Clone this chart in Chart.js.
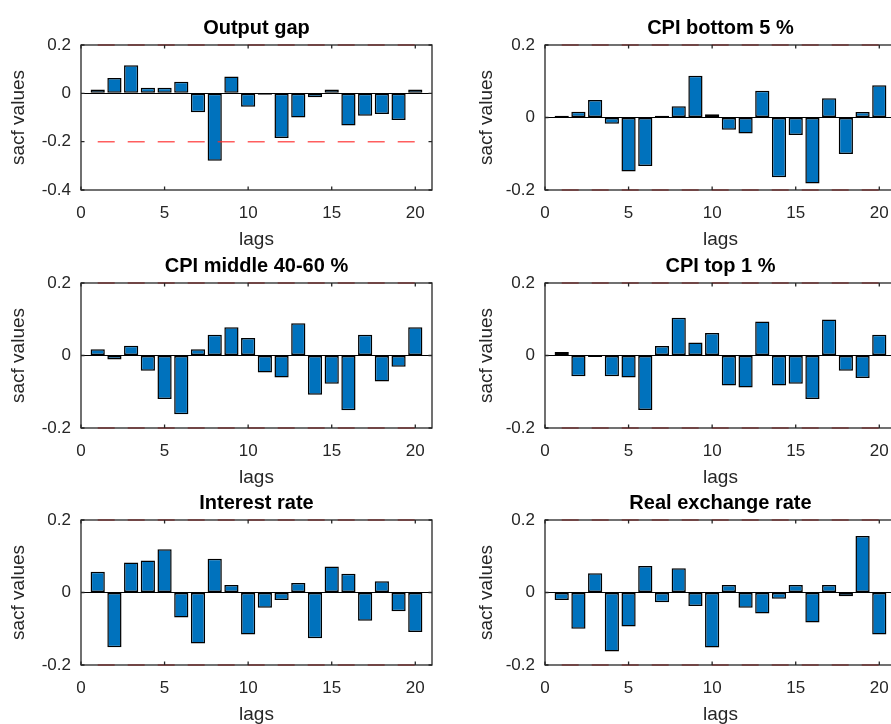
<!DOCTYPE html>
<html>
<head>
<meta charset="utf-8">
<script src="https://cdn.jsdelivr.net/npm/chart.js@4.4.0/dist/chart.umd.min.js"></script>
<style>
  html, body { margin: 0; padding: 0; background: #fff; }
  body { position: relative; width: 891px; height: 724px; overflow: hidden; }
  .panel { position: absolute; }
</style>
</head>
<body>
<canvas class="panel" id="acf-0"></canvas>
<canvas class="panel" id="acf-1"></canvas>
<canvas class="panel" id="acf-2"></canvas>
<canvas class="panel" id="acf-3"></canvas>
<canvas class="panel" id="acf-4"></canvas>
<canvas class="panel" id="acf-5"></canvas>
<script>
// ---- sample autocorrelations of the residuals, lags 1..20 ----
const lags = [1, 2, 3, 4, 5, 6, 7, 8, 9, 10, 11, 12, 13, 14, 15, 16, 17, 18, 19, 20];

const outputGap    = [0.016, 0.063, 0.116, 0.023, 0.023, 0.048, -0.078, -0.279, 0.070, -0.055,
                      -0.006, -0.185, -0.100, -0.016, 0.016, -0.133, -0.093, -0.085, -0.110, 0.016];
const cpiBottom5   = [0.005, 0.016, 0.048, -0.017, -0.149, -0.134, 0.005, 0.031, 0.115, 0.009,
                      -0.034, -0.044, 0.074, -0.165, -0.048, -0.182, 0.053, -0.101, 0.015, 0.089];
const cpiMiddle    = [0.017, -0.011, 0.027, -0.042, -0.120, -0.162, 0.017, 0.057, 0.078, 0.048,
                      -0.047, -0.061, 0.089, -0.108, -0.078, -0.151, 0.057, -0.072, -0.031, 0.078];
const cpiTop1      = [0.010, -0.057, -0.004, -0.057, -0.061, -0.150, 0.026, 0.104, 0.036, 0.062,
                      -0.083, -0.088, 0.094, -0.083, -0.078, -0.120, 0.099, -0.042, -0.062, 0.057];
const interestRate = [0.057, -0.151, 0.083, 0.088, 0.119, -0.069, -0.141, 0.093, 0.021, -0.116,
                      -0.042, -0.021, 0.026, -0.126, 0.072, 0.052, -0.078, 0.031, -0.052, -0.109];
const realExchange = [-0.021, -0.100, 0.053, -0.163, -0.094, 0.073, -0.027, 0.067, -0.037, -0.152,
                      0.021, -0.042, -0.058, -0.017, 0.021, -0.083, 0.021, -0.010, 0.156, -0.116];

const panelTitles = ['Output gap', 'CPI bottom 5 %', 'CPI middle 40-60 %', 'CPI top 1 %',
                     'Interest rate', 'Real exchange rate'];
const panelSeries = [outputGap, cpiBottom5, cpiMiddle, cpiTop1, interestRate, realExchange];

// confidence band drawn as dashed lines from the first to the last lag
const bandLimit = 0.2;
const bandLags = [1, 20];

const xTicks = [0, 5, 10, 15, 20];
const yTicksWide = [-0.4, -0.2, 0, 0.2];   // output gap panel
const yTicks = [-0.2, 0, 0.2];

// ---- look ----
const FONT = "'Liberation Sans', Arial, Helvetica, sans-serif";
const AXIS_COLOR = '#262626';
const BAR_FILL = '#0072bd';

// panel geometry (canvas placement + axes box inside it)
const COL_LEFT   = [0, 445];
const COL_WIDTH  = [445, 470];
const Y_AXIS_W   = [81, 100];
const Y_TITLE_PAD = [7, 30];
const ROW_TOP    = [0, 238, 475];
const BOX_W = 351, BOX_TOP = 45, X_AXIS_H = 70, CANVAS_H = 260;

// box, inward tick marks and bold title, like a MATLAB axes
const axesFrame = {
  id: 'axesFrame',
  afterDatasetsDraw(chart, args, opts) {
    const { ctx, chartArea: a, scales: { x, y } } = chart;
    ctx.save();
    ctx.strokeStyle = AXIS_COLOR;
    ctx.lineWidth = 1.3;
    ctx.beginPath();
    x.ticks.forEach(t => {
      const px = x.getPixelForValue(t.value);
      ctx.moveTo(px, a.bottom); ctx.lineTo(px, a.bottom - 3.5);
      ctx.moveTo(px, a.top);    ctx.lineTo(px, a.top + 3.5);
    });
    y.ticks.forEach(t => {
      const py = y.getPixelForValue(t.value);
      ctx.moveTo(a.left, py);  ctx.lineTo(a.left + 3.5, py);
      ctx.moveTo(a.right, py); ctx.lineTo(a.right - 3.5, py);
    });
    ctx.stroke();
    ctx.strokeRect(a.left, a.top, a.right - a.left, a.bottom - a.top);

    ctx.fillStyle = '#000';
    ctx.font = `bold 20px ${FONT}`;
    ctx.textAlign = 'center';
    ctx.textBaseline = 'alphabetic';
    ctx.fillText(opts.text, (a.left + a.right) / 2, a.top - 10.8);
    ctx.restore();
  }
};

function makePanel(i) {
  const col = i % 2, row = Math.floor(i / 2);
  const canvas = document.getElementById('acf-' + i);
  canvas.width = COL_WIDTH[col];
  canvas.height = CANVAS_H;
  canvas.style.left = COL_LEFT[col] + 'px';
  canvas.style.top = ROW_TOP[row] + 'px';

  const values = panelSeries[i];
  const yt = i === 0 ? yTicksWide : yTicks;
  const band = sign => bandLags.map(l => ({ x: l, y: sign * bandLimit }));
  const dashed = sign => ({
    type: 'line',
    data: band(sign),
    borderColor: 'rgba(255, 40, 40, 0.75)',
    borderWidth: 1.5,
    borderDash: [17, 13],
    pointRadius: 0,
    clip: false,
    order: 1
  });

  return new Chart(canvas, {
    type: 'bar',
    data: {
      datasets: [
        {
          data: lags.map((l, k) => ({ x: l, y: values[k] })),
          backgroundColor: BAR_FILL,
          borderColor: '#000',
          borderWidth: 1.5,
          borderSkipped: false,
          categoryPercentage: 1,
          barPercentage: 0.85,
          order: 2
        },
        dashed(1),
        dashed(-1)
      ]
    },
    options: {
      responsive: false,
      animation: false,
      devicePixelRatio: 1,
      layout: { padding: { top: BOX_TOP, left: 0, right: COL_WIDTH[col] - Y_AXIS_W[col] - BOX_W, bottom: 0 } },
      plugins: {
        legend: { display: false },
        tooltip: { enabled: false },
        axesFrame: { text: panelTitles[i] }
      },
      scales: {
        x: {
          type: 'linear',
          min: 0, max: 21,
          offset: false,
          afterFit: s => { s.height = X_AXIS_H; },
          afterBuildTicks: s => { s.ticks = xTicks.map(v => ({ value: v })); },
          grid: { display: false },
          border: { display: false },
          ticks: { color: AXIS_COLOR, padding: 5, font: { family: FONT, size: 17 } },
          title: {
            display: true, text: 'lags', color: AXIS_COLOR,
            font: { family: FONT, size: 19 },
            padding: { top: 0, bottom: 8.6 }
          }
        },
        y: {
          min: yt[0], max: yt[yt.length - 1],
          afterFit: s => { s.width = Y_AXIS_W[col]; },
          afterBuildTicks: s => { s.ticks = yt.map(v => ({ value: v })); },
          grid: {
            drawTicks: false,
            lineWidth: 1,
            color: c => (c.tick && c.tick.value === 0 ? '#000' : 'rgba(0,0,0,0)')
          },
          border: { display: false },
          ticks: {
            color: AXIS_COLOR, padding: 10,
            font: { family: FONT, size: 17 },
            callback: v => String(v)
          },
          title: {
            display: true, text: 'sacf values', color: AXIS_COLOR,
            font: { family: FONT, size: 19 },
            padding: { top: Y_TITLE_PAD[col], bottom: 0 }
          }
        }
      }
    },
    plugins: [axesFrame]
  });
}

panelTitles.forEach((_, i) => makePanel(i));
</script>
</body>
</html>
